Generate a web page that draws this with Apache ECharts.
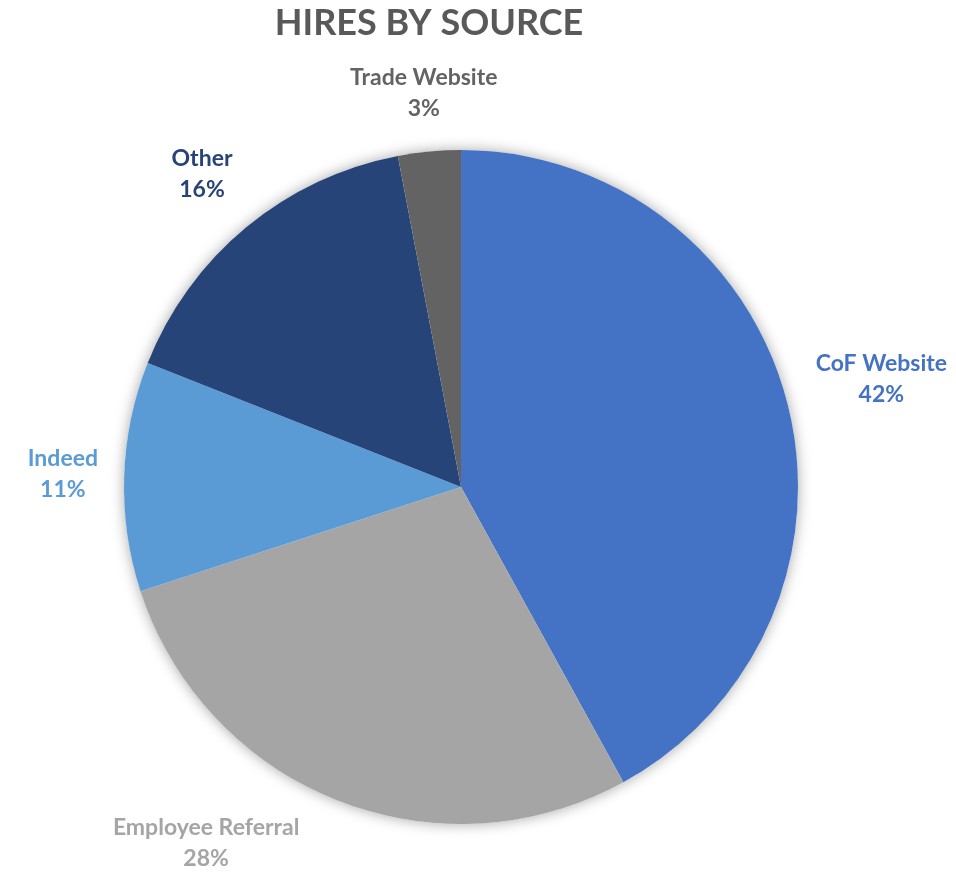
<!DOCTYPE html>
<html>
<head>
<meta charset="utf-8">
<script src="https://cdn.jsdelivr.net/npm/echarts@6/dist/echarts.min.js"></script>
<style>html,body{margin:0;padding:0;background:#fff}#c{width:956px;height:877px}</style>
</head>
<body>
<div id="c"></div>
<script>
const categories = ['CoF Website', 'Employee Referral', 'Indeed', 'Other', 'Trade Website'];
const values = [42, 28, 11, 16, 3];
const colors = ['#4472C4', '#A5A5A5', '#5B9BD5', '#264478', '#636363'];
const titleText = 'HIRES BY SOURCE';

const chart = echarts.init(document.getElementById('c'));
const W = chart.getWidth(), H = chart.getHeight();
const CX = 461, CY = 487, R = 337, GAP = 26;
const total = values.reduce((a, b) => a + b, 0);

function closestDist(cx, cy, w, h) {
  const dx = Math.max(Math.abs(cx - CX) - w / 2, 0);
  const dy = Math.max(Math.abs(cy - CY) - h / 2, 0);
  return Math.sqrt(dx * dx + dy * dy);
}
function placeAt(th, w, h) {
  const ux = Math.sin(th), uy = -Math.cos(th);
  let lo = 0, hi = 1000;
  for (let k = 0; k < 60; k++) {
    const t = (lo + hi) / 2;
    if (closestDist(CX + ux * t, CY + uy * t, w, h) < R + GAP) lo = t; else hi = t;
  }
  return [CX + ux * hi, CY + uy * hi];
}
function fits(p, w, h) {
  return p[1] - h / 2 >= 0 && p[1] + h / 2 <= H && p[0] - w / 2 >= 0 && p[0] + w / 2 <= W;
}

chart.setOption({
  backgroundColor: '#ffffff',
  title: {
    text: titleText,
    left: 424, top: 0, textAlign: 'center',
    textStyle: { fontFamily: 'Lato', fontWeight: 'bold', fontSize: 36, color: '#595959' }
  },
  series: [
    {
      type: 'pie', silent: true, z: 1,
      center: [CX, CY], radius: R,
      label: { show: false }, labelLine: { show: false },
      itemStyle: { color: '#ffffff', shadowBlur: 14, shadowColor: 'rgba(0,0,0,0.35)' },
      data: [{ value: 1, name: '' }]
    },
    {
      type: 'pie', z: 2,
      center: [CX, CY], radius: R,
      startAngle: 90, clockwise: true,
      percentPrecision: 0,
      itemStyle: { borderWidth: 0 },
      label: {
        show: true, position: 'outside', alignTo: 'none', overflow: 'none',
        formatter: '{b}\n{d}%',
        fontFamily: 'Lato', fontWeight: 'bold', fontSize: 23, lineHeight: 31
      },
      labelLine: { show: false },
      labelLayout: function (p) {
        const i = p.dataIndex;
        let cum = 0;
        for (let k = 0; k < i; k++) cum += values[k];
        let th = (cum + values[i] / 2) / total * 2 * Math.PI;
        const w = p.labelRect.width, h = p.labelRect.height;
        let pos = placeAt(th, w, h);
        let n = 0;
        while (!fits(pos, w, h) && n < 90) {
          const deg = th * 180 / Math.PI % 360;
          const vOver = pos[1] - h / 2 < 0 || pos[1] + h / 2 > H;
          let step;
          if (vOver) {
            step = (deg > 180 && deg < 360) ? (deg < 270 ? 1 : -1) : (deg < 90 ? 1 : -1);
            if (deg > 90 && deg <= 180) step = -1;
          } else {
            step = (deg < 90 || (deg > 180 && deg < 270)) ? -1 : 1;
          }
          th += step * Math.PI / 180;
          pos = placeAt(th, w, h);
          n++;
        }
        return { x: pos[0], y: pos[1], align: 'center', verticalAlign: 'middle' };
      },
      data: categories.map((c, i) => ({
        name: c, value: values[i],
        itemStyle: { color: colors[i] },
        label: { color: colors[i] }
      }))
    }
  ]
});
</script>
</body>
</html>
